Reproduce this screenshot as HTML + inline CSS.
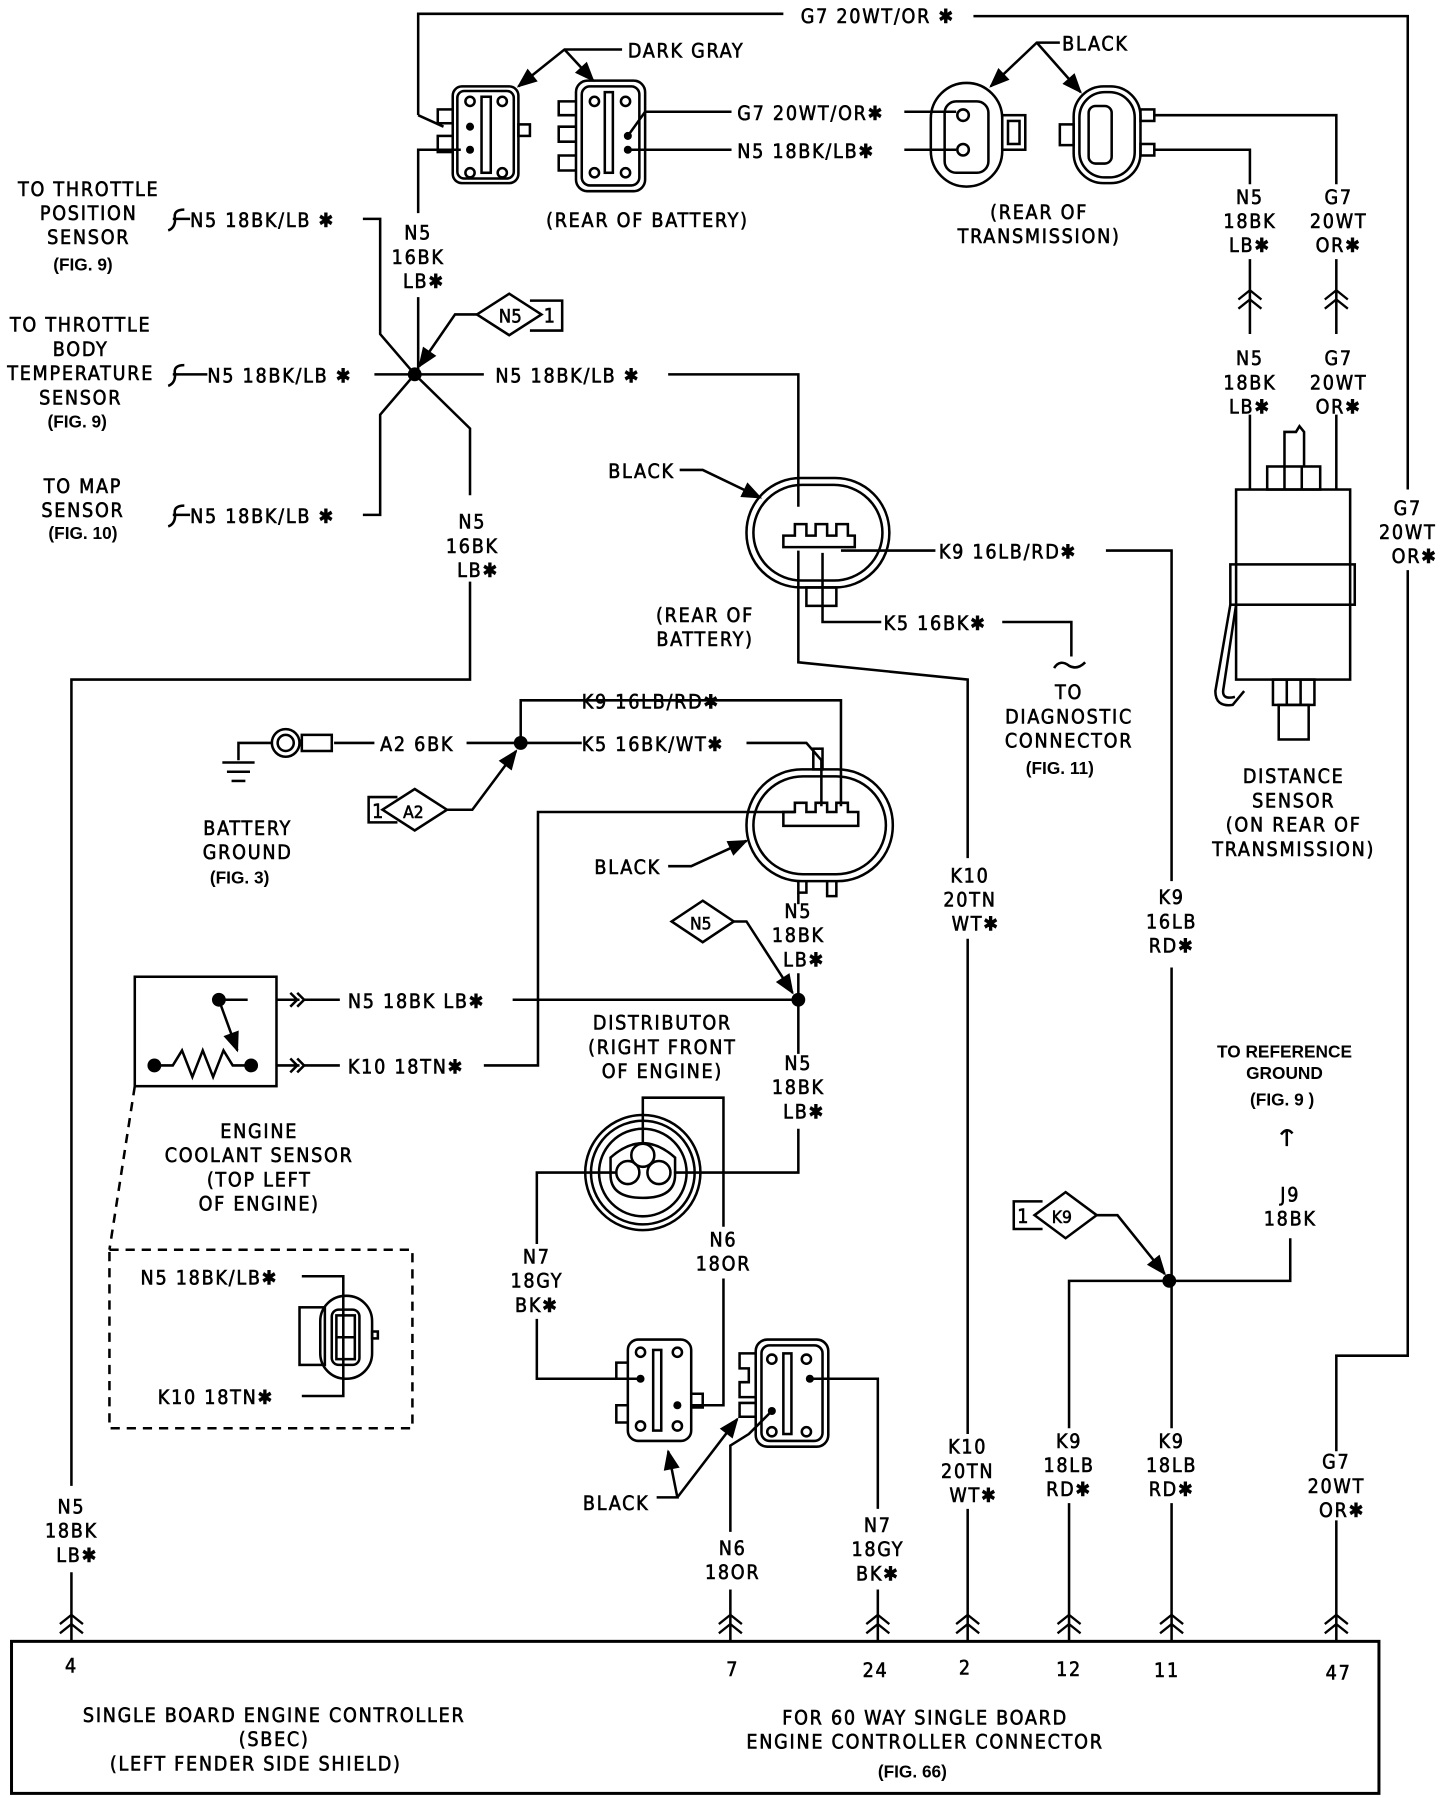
<!DOCTYPE html>
<html><head><meta charset="utf-8"><style>
html,body{margin:0;padding:0;background:#fff}
svg{display:block}
text{font-family:"DejaVu Sans Condensed","Liberation Sans",sans-serif;font-size:17px;letter-spacing:1.5px;fill:#000;stroke:#000;stroke-width:0.5}
.s{font-family:"Liberation Sans",sans-serif;font-weight:bold;font-size:15px;letter-spacing:0;stroke:none}
</style></head><body>
<svg width="1440" height="1798" viewBox="0 0 1250 1561" preserveAspectRatio="none" xmlns="http://www.w3.org/2000/svg">
<defs>
<marker id="ar" viewBox="0 0 10 10" refX="9" refY="5" markerWidth="10" markerHeight="8" orient="auto"><path d="M0,1 L10,5 L0,9 Z"/></marker>
<g id="ch"><path d="M-10,-2 L0,-10 L10,-2 M-10,6 L0,-2 L10,6" fill="none" stroke="#000" stroke-width="2"/></g>
</defs>
<g fill="none" stroke="#000" stroke-width="2.2">
<polyline points="363,100 363,12 680,12"/>
<polyline points="845,14 1222,14 1222,425"/>
<polyline points="1222,495 1222,1177 1160,1177 1160,1260"/>
<polyline points="1160,1320 1160,1425"/>
<line x1="363" y1="100" x2="385" y2="110"/>
<rect x="393" y="75" width="57" height="84" rx="8"/>
<rect x="397" y="79" width="49" height="76" rx="6"/>
<rect x="418" y="84" width="8" height="66"/>
<rect x="380" y="95" width="13" height="12"/><rect x="380" y="118" width="13" height="14"/>
<rect x="450" y="108" width="10" height="10"/>
<circle cx="408" cy="88" r="4"/><circle cx="436" cy="88" r="4"/><circle cx="408" cy="150" r="4"/><circle cx="436" cy="150" r="4"/>
<polyline points="400,130 363,130 363,185"/>
<line x1="363" y1="258" x2="363" y2="325"/>
<rect x="500" y="70" width="60" height="96" rx="10"/>
<rect x="505" y="75" width="50" height="86" rx="7"/>
<rect x="525" y="80" width="7" height="70"/>
<path d="M500,88 H485 V100 H500 M500,110 H485 V123 H500 M500,135 H485 V148 H500"/>
<circle cx="516" cy="88" r="4"/><circle cx="543" cy="88" r="4"/><circle cx="516" cy="150" r="4"/><circle cx="543" cy="150" r="4"/>
<polyline points="545,118 560,97 635,97"/>
<line x1="545" y1="130" x2="635" y2="130"/>
<polyline points="540,43 490,43 450,75" marker-end="url(#ar)"/>
<line x1="490" y1="43" x2="515" y2="70" marker-end="url(#ar)"/>
<line x1="785" y1="97" x2="830" y2="97"/><line x1="785" y1="130" x2="830" y2="130"/>
<rect x="808" y="72" width="62" height="90" rx="31"/>
<rect x="820" y="88" width="38" height="62" rx="10"/>
<circle cx="836" cy="100" r="5"/><circle cx="836" cy="130" r="5"/>
<rect x="870" y="100" width="20" height="30"/><rect x="875" y="105" width="10" height="20"/>
<rect x="932" y="75" width="58" height="84" rx="26"/>
<rect x="937" y="80" width="48" height="74" rx="22"/>
<rect x="945" y="92" width="20" height="50" rx="6"/>
<rect x="920" y="108" width="12" height="18"/>
<rect x="990" y="95" width="12" height="10"/><rect x="990" y="125" width="12" height="10"/>
<polyline points="1002,100 1160,100 1160,160"/>
<polyline points="1002,130 1085,130 1085,160"/>
<polyline points="920,37 900,37 860,75" marker-end="url(#ar)"/>
<line x1="900" y1="37" x2="938" y2="80" marker-end="url(#ar)"/>
<line x1="1085" y1="225" x2="1085" y2="290"/><line x1="1160" y1="225" x2="1160" y2="290"/>
<line x1="1085" y1="360" x2="1085" y2="425"/><line x1="1160" y1="360" x2="1160" y2="425"/>
<rect x="1073" y="425" width="99" height="165"/>
<rect x="1068" y="490" width="108" height="35"/>
<rect x="1100" y="405" width="46" height="20"/><line x1="1115" y1="405" x2="1115" y2="425"/><line x1="1130" y1="405" x2="1130" y2="425"/>
<path d="M1115,405 V375 H1125 L1128,370 L1132,375 V405"/>
<rect x="1105" y="590" width="36" height="22"/><line x1="1117" y1="590" x2="1117" y2="612"/><line x1="1129" y1="590" x2="1129" y2="612"/>
<rect x="1110" y="612" width="26" height="30"/>
<path d="M1068,525 L1055,600 Q1055,614 1070,612 L1080,600 M1073,525 L1062,598 Q1060,608 1072,605"/>
<polyline points="315,190 330,190 330,290 360,325"/>
<line x1="325" y1="325" x2="420" y2="325"/>
<polyline points="315,447 330,447 330,360 360,325"/>
<polyline points="360,325 408,372 408,430"/>
<polyline points="408,505 408,590 62,590 62,1290"/>
<line x1="62" y1="1365" x2="62" y2="1425"/>
<polyline points="580,325 693,325 693,440"/>
<polyline points="415,273 395,273 364,318" marker-end="url(#ar)"/>
<path d="M442,255 L470,273 L442,291 L414,273 Z"/>
<polyline points="460,261 488,261 488,287 460,287"/>
<path d="M160,182 Q150,182 152,190 Q152,198 146,200 M150,190 H165"/>
<path d="M160,317 Q150,317 152,325 Q152,333 146,335 M150,325 H180"/>
<path d="M160,439 Q150,439 152,447 Q152,455 146,457 M150,447 H165"/>
<rect x="648" y="415" width="124" height="95" rx="47"/>
<rect x="654" y="421" width="112" height="83" rx="42"/>
<path d="M680,465 H690 V455 H700 V465 H708 V455 H718 V465 H726 V455 H736 V465 H742 V475 H680 Z"/>
<rect x="700" y="510" width="26" height="16"/>
<polyline points="590,408 610,408 660,432" marker-end="url(#ar)"/>
<line x1="730" y1="478" x2="812" y2="478"/>
<polyline points="960,478 1017,478 1017,765"/>
<polyline points="714,480 714,540 765,540"/>
<polyline points="870,540 930,540 930,570"/>
<path d="M915,580 Q920,572 928,578 Q935,582 942,575"/>
<polyline points="693,478 693,575 840,590 840,745"/>
<line x1="840" y1="815" x2="840" y2="1245"/>
<line x1="840" y1="1310" x2="840" y2="1425"/>
<rect x="648" y="668" width="127" height="97" rx="48"/>
<rect x="654" y="674" width="115" height="85" rx="43"/>
<path d="M680,705 H690 V697 H700 V705 H708 V697 H718 V705 H726 V697 H736 V705 H745 V717 H680 Z"/>
<rect x="706" y="650" width="8" height="18"/>
<path d="M693,765 V775 H700 V765 M718,765 V778 H726 V765"/>
<polyline points="730,700 730,608 452,608 452,645"/>
<polyline points="713,700 713,660 700,645 648,645"/>
<line x1="452" y1="645" x2="505" y2="645"/>
<line x1="405" y1="645" x2="452" y2="645"/>
<line x1="290" y1="645" x2="325" y2="645"/>
<circle cx="248" cy="645" r="12"/><circle cx="248" cy="645" r="7"/>
<rect x="262" y="638" width="26" height="14"/>
<polyline points="236,645 207,645 207,660"/>
<line x1="193" y1="662" x2="221" y2="662"/><line x1="197" y1="670" x2="217" y2="670"/><line x1="201" y1="678" x2="213" y2="678"/>
<path d="M360,685 L388,703 L360,721 L332,703 Z"/>
<polyline points="345,692 320,692 320,714 345,714"/>
<polyline points="388,703 410,703 448,652" marker-end="url(#ar)"/>
<polyline points="690,705 467,705 467,925 420,925"/>
<polyline points="580,752 600,752 648,730" marker-end="url(#ar)"/>
<line x1="693" y1="775" x2="693" y2="785"/>
<line x1="693" y1="845" x2="693" y2="915"/>
<line x1="445" y1="868" x2="693" y2="868"/>
<path d="M610,782 L637,800 L610,818 L583,800 Z"/>
<polyline points="637,800 648,800 688,862" marker-end="url(#ar)"/>
<polyline points="693,980 693,1018 585,1018"/>
<rect x="117" y="848" width="123" height="95"/>
<line x1="240" y1="868" x2="260" y2="868"/><path d="M252,862 L258,868 L252,874 M258,862 L264,868 L258,874"/>
<line x1="240" y1="925" x2="260" y2="925"/><path d="M252,919 L258,925 L252,931 M258,919 L264,925 L258,931"/>
<line x1="264" y1="868" x2="295" y2="868"/><line x1="264" y1="925" x2="295" y2="925"/>
<line x1="190" y1="868" x2="215" y2="868"/>
<line x1="190" y1="868" x2="206" y2="912" marker-end="url(#ar)"/>
<polyline points="134,925 150,925 158,912 167,935 176,912 185,935 194,912 202,925 218,925"/>
<path d="M117,943 L95,1085" stroke-dasharray="8,6"/>
<rect x="95" y="1085" width="263" height="155" stroke-dasharray="8,6"/>
<polyline points="262,1108 298,1108 298,1212 262,1212"/>
<rect x="260" y="1135" width="22" height="50"/>
<rect x="278" y="1125" width="45" height="72" rx="22"/>
<rect x="288" y="1137" width="24" height="48" rx="6"/>
<rect x="292" y="1142" width="16" height="38"/><line x1="292" y1="1161" x2="308" y2="1161"/>
<rect x="323" y="1156" width="5" height="6"/>
<circle cx="558" cy="1018" r="50"/><circle cx="558" cy="1018" r="45"/><circle cx="558" cy="1018" r="38"/>
<path d="M530,1005 Q558,980 586,1005 L586,1020 Q586,1040 558,1040 Q530,1040 530,1020 Z"/>
<circle cx="558" cy="1003" r="10"/><circle cx="545" cy="1018" r="10"/><circle cx="572" cy="1018" r="10"/>
<polyline points="558,993 558,953 628,953 628,1065"/>
<polyline points="535,1018 466,1018 466,1080"/>
<polyline points="628,1110 628,1220 600,1220"/>
<polyline points="466,1145 466,1197 555,1197"/>
<rect x="545" y="1163" width="55" height="88" rx="9"/>
<rect x="567" y="1172" width="7" height="70"/>
<path d="M545,1183 H535 V1197 H545 M545,1220 H535 V1235 H545 M600,1210 H610 V1222 H600"/>
<circle cx="556" cy="1174" r="4"/><circle cx="588" cy="1174" r="4"/><circle cx="556" cy="1238" r="4"/><circle cx="588" cy="1238" r="4"/>
<rect x="656" y="1163" width="63" height="93" rx="10"/>
<rect x="661" y="1168" width="53" height="83" rx="7"/>
<rect x="680" y="1175" width="7" height="70"/>
<path d="M656,1175 H642 V1188 H650 V1200 H642 V1213 H656 M656,1218 H642 V1230 H656"/>
<circle cx="670" cy="1180" r="4"/><circle cx="700" cy="1180" r="4"/><circle cx="670" cy="1243" r="4"/><circle cx="700" cy="1243" r="4"/>
<polyline points="703,1197 762,1197 762,1310"/>
<polyline points="670,1225 650,1245 634,1255 634,1330"/>
<polyline points="570,1300 588,1300 580,1260" marker-end="url(#ar)"/>
<line x1="588" y1="1300" x2="640" y2="1232" marker-end="url(#ar)"/>
<line x1="634" y1="1380" x2="634" y2="1425"/><line x1="762" y1="1380" x2="762" y2="1425"/>
<line x1="1017" y1="840" x2="1017" y2="1240"/>
<line x1="1017" y1="1305" x2="1017" y2="1425"/>
<polyline points="928,1240 928,1112 1120,1112 1120,1075"/>
<line x1="928" y1="1305" x2="928" y2="1425"/>
<path d="M1112,985 Q1117,978 1122,984 M1117,982 V995"/>
<path d="M925,1035 L952,1055 L925,1075 L898,1055 Z"/>
<polyline points="905,1043 880,1043 880,1067 905,1067"/>
<polyline points="952,1055 970,1055 1011,1106" marker-end="url(#ar)"/>
<rect x="10" y="1425" width="1187" height="132" stroke-width="2.6"/>
</g>
<g fill="#000">
<circle cx="360" cy="325" r="6"/><circle cx="452" cy="645" r="6"/><circle cx="693" cy="868" r="6"/><circle cx="1015" cy="1112" r="6"/>
<circle cx="190" cy="868" r="6"/><circle cx="134" cy="925" r="6"/><circle cx="218" cy="925" r="6"/>
<circle cx="408" cy="110" r="3.5"/><circle cx="408" cy="130" r="3.5"/><circle cx="545" cy="118" r="3.5"/><circle cx="545" cy="130" r="3.5"/>
<circle cx="556" cy="1197" r="3.5"/><circle cx="588" cy="1220" r="3.5"/><circle cx="703" cy="1197" r="3.5"/><circle cx="670" cy="1225" r="3.5"/>
</g>
<use href="#ch" x="1085" y="262"/><use href="#ch" x="1160" y="262"/>
<use href="#ch" x="62" y="1412"/><use href="#ch" x="634" y="1412"/><use href="#ch" x="762" y="1412"/><use href="#ch" x="840" y="1412"/><use href="#ch" x="928" y="1412"/><use href="#ch" x="1017" y="1412"/><use href="#ch" x="1160" y="1412"/>
<text x="762" y="20" text-anchor="middle">G7 20WT/OR ✱</text>
<text x="545" y="50">DARK GRAY</text>
<text x="640" y="104">G7 20WT/OR✱</text>
<text x="640" y="137">N5 18BK/LB✱</text>
<text x="562" y="197" text-anchor="middle">(REAR OF BATTERY)</text>
<text x="922" y="44">BLACK</text>
<text x="902" y="190" text-anchor="middle">(REAR OF</text>
<text x="902" y="211" text-anchor="middle">TRANSMISSION)</text>
<g text-anchor="middle">
<text x="1085" y="177">N5</text><text x="1085" y="198">18BK</text><text x="1085" y="219">LB✱</text>
<text x="1162" y="177">G7</text><text x="1162" y="198">20WT</text><text x="1162" y="219">OR✱</text>
<text x="1085" y="317">N5</text><text x="1085" y="338">18BK</text><text x="1085" y="359">LB✱</text>
<text x="1162" y="317">G7</text><text x="1162" y="338">20WT</text><text x="1162" y="359">OR✱</text>
<text x="1222" y="447">G7</text><text x="1222" y="468">20WT</text><text x="1228" y="489">OR✱</text>
<text x="77" y="170">TO THROTTLE</text><text x="77" y="191">POSITION</text><text x="77" y="212">SENSOR</text>
<text x="70" y="288">TO THROTTLE</text><text x="70" y="309">BODY</text><text x="70" y="330">TEMPERATURE</text><text x="70" y="351">SENSOR</text>
<text x="72" y="428">TO MAP</text><text x="72" y="449">SENSOR</text>
<text x="363" y="208">N5</text><text x="363" y="229">16BK</text><text x="368" y="250">LB✱</text>
<text x="410" y="459">N5</text><text x="410" y="480">16BK</text><text x="415" y="501">LB✱</text>
<text x="62" y="1314">N5</text><text x="62" y="1335">18BK</text><text x="67" y="1356">LB✱</text>
<text x="612" y="540">(REAR OF</text><text x="612" y="561">BATTERY)</text>
<text x="928" y="607">TO</text><text x="928" y="628">DIAGNOSTIC</text><text x="928" y="649">CONNECTOR</text>
<text x="842" y="766">K10</text><text x="842" y="787">20TN</text><text x="847" y="808">WT✱</text>
<text x="1017" y="785">K9</text><text x="1017" y="806">16LB</text><text x="1017" y="827">RD✱</text>
<text x="1123" y="680">DISTANCE</text><text x="1123" y="701">SENSOR</text><text x="1123" y="722">(ON REAR OF</text><text x="1123" y="743">TRANSMISSION)</text>
<text x="215" y="725">BATTERY</text><text x="215" y="746">GROUND</text>
<text x="693" y="797">N5</text><text x="693" y="818">18BK</text><text x="698" y="839">LB✱</text>
<text x="693" y="929">N5</text><text x="693" y="950">18BK</text><text x="698" y="971">LB✱</text>
<text x="575" y="894">DISTRIBUTOR</text><text x="575" y="915">(RIGHT FRONT</text><text x="575" y="936">OF ENGINE)</text>
<text x="225" y="988">ENGINE</text><text x="225" y="1009">COOLANT SENSOR</text><text x="225" y="1030">(TOP LEFT</text><text x="225" y="1051">OF ENGINE)</text>
<text x="466" y="1097">N7</text><text x="466" y="1118">18GY</text><text x="466" y="1139">BK✱</text>
<text x="628" y="1082">N6</text><text x="628" y="1103">18OR</text>
<text x="636" y="1350">N6</text><text x="636" y="1371">18OR</text>
<text x="762" y="1330">N7</text><text x="762" y="1351">18GY</text><text x="762" y="1372">BK✱</text>
<text x="840" y="1262">K10</text><text x="840" y="1283">20TN</text><text x="845" y="1304">WT✱</text>
<text x="928" y="1257">K9</text><text x="928" y="1278">18LB</text><text x="928" y="1299">RD✱</text>
<text x="1017" y="1257">K9</text><text x="1017" y="1278">18LB</text><text x="1017" y="1299">RD✱</text>
<text x="1160" y="1275">G7</text><text x="1160" y="1296">20WT</text><text x="1165" y="1317">OR✱</text>
<text x="1120" y="1043">J9</text><text x="1120" y="1064">18BK</text>
<text x="62" y="1452">4</text><text x="636" y="1455">7</text><text x="760" y="1456">24</text><text x="838" y="1454">2</text><text x="928" y="1455">12</text><text x="1013" y="1456">11</text><text x="1162" y="1458">47</text>
<text x="238" y="1495">SINGLE BOARD ENGINE CONTROLLER</text><text x="238" y="1516">(SBEC)</text><text x="222" y="1537">(LEFT FENDER SIDE SHIELD)</text>
<text x="803" y="1497">FOR 60 WAY SINGLE BOARD</text><text x="803" y="1518">ENGINE CONTROLLER CONNECTOR</text>
</g>
<g text-anchor="middle">
<text class="s" x="72" y="235">(FIG. 9)</text>
<text class="s" x="67" y="371">(FIG. 9)</text>
<text class="s" x="72" y="468">(FIG. 10)</text>
<text class="s" x="920" y="672">(FIG. 11)</text>
<text class="s" x="208" y="767">(FIG. 3)</text>
<text class="s" x="1115" y="918">TO REFERENCE</text>
<text class="s" x="1115" y="937">GROUND</text>
<text class="s" x="1113" y="960">(FIG. 9 )</text>
<text class="s" x="792" y="1543">(FIG. 66)</text>
</g>
<text x="165" y="197">N5 18BK/LB ✱</text>
<text x="180" y="332">N5 18BK/LB ✱</text>
<text x="165" y="454">N5 18BK/LB ✱</text>
<text x="430" y="332">N5 18BK/LB ✱</text>
<text x="433" y="280" style="font-size:16px;letter-spacing:0">N5</text>
<text x="472" y="280">1</text>
<text x="528" y="415">BLACK</text>
<text x="815" y="485">K9 16LB/RD✱</text>
<text x="767" y="547">K5 16BK✱</text>
<text x="505" y="615">K9 16LB/RD✱</text>
<text x="505" y="652">K5 16BK/WT✱</text>
<text x="330" y="652">A2 6BK</text>
<text x="323" y="710">1</text>
<text x="350" y="710" style="font-size:15px;letter-spacing:0">A2</text>
<text x="516" y="759">BLACK</text>
<text x="599" y="807" style="font-size:15px;letter-spacing:0">N5</text>
<text x="302" y="875">N5 18BK LB✱</text>
<text x="302" y="932">K10 18TN✱</text>
<text x="122" y="1115">N5 18BK/LB✱</text>
<text x="137" y="1219">K10 18TN✱</text>
<text x="506" y="1311">BLACK</text>
<text x="883" y="1062">1</text>
<text x="913" y="1062" style="font-size:15px;letter-spacing:0">K9</text>
</svg>
</body></html>
